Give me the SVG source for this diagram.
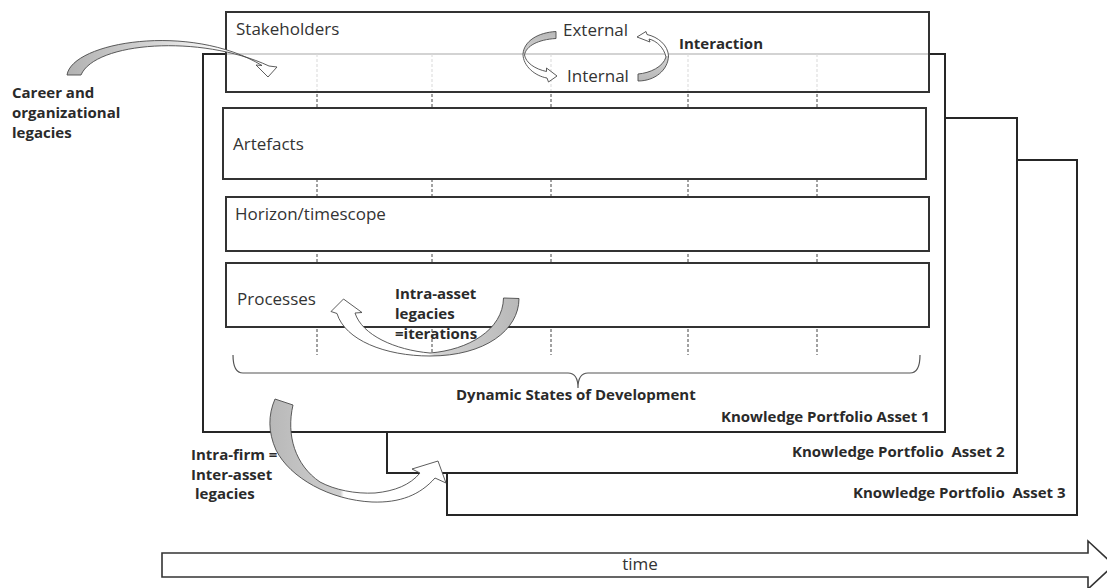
<svg xmlns="http://www.w3.org/2000/svg" width="1107" height="588" viewBox="0 0 1107 588">
  <style>
    .frame { fill: #ffffff; stroke: #262626; stroke-width: 2; }
    .box { fill: #ffffff; stroke: #333333; stroke-width: 2; }
    .grid { stroke: #444444; stroke-width: 1; stroke-dasharray: 3 2; fill: none; }
    .lbl { font-family: "Open Sans", "Liberation Sans", sans-serif; font-size: 17px; fill: #333333; }
    .bold { font-family: "Open Sans", "Liberation Sans", sans-serif; font-size: 15px; font-weight: bold; fill: #2a2a2a; white-space: pre; }
    .band { stroke: #4a4a4a; stroke-width: 0.9; stroke-linejoin: round; }
    .brace { fill: none; stroke: #555555; stroke-width: 1.2; }
  </style>
  <defs>
    <linearGradient id="fadeRight" x1="0" y1="0" x2="1" y2="0">
      <stop offset="0" stop-color="#b2b2b2"/>
      <stop offset="0.45" stop-color="#d8d8d8"/>
      <stop offset="0.75" stop-color="#ffffff"/>
      <stop offset="1" stop-color="#ffffff"/>
    </linearGradient>
    <linearGradient id="twistTop" x1="0" y1="0" x2="0" y2="1">
      <stop offset="0" stop-color="#b8b8b8"/>
      <stop offset="0.44" stop-color="#d2d2d2"/>
      <stop offset="0.45" stop-color="#ffffff"/>
      <stop offset="1" stop-color="#ffffff"/>
    </linearGradient>
    <linearGradient id="twistBottom" x1="0" y1="0" x2="0" y2="1">
      <stop offset="0" stop-color="#ffffff"/>
      <stop offset="0.49" stop-color="#ffffff"/>
      <stop offset="0.5" stop-color="#d2d2d2"/>
      <stop offset="1" stop-color="#b8b8b8"/>
    </linearGradient>
    <linearGradient id="twistRight" x1="0" y1="0" x2="1" y2="0">
      <stop offset="0" stop-color="#ffffff"/>
      <stop offset="0.52" stop-color="#ffffff"/>
      <stop offset="0.55" stop-color="#d4d4d4"/>
      <stop offset="1" stop-color="#b8b8b8"/>
    </linearGradient>
    <linearGradient id="twistLeft" x1="0" y1="0" x2="1" y2="0">
      <stop offset="0" stop-color="#b8b8b8"/>
      <stop offset="0.4" stop-color="#cfcfcf"/>
      <stop offset="0.42" stop-color="#ffffff"/>
      <stop offset="1" stop-color="#ffffff"/>
    </linearGradient>
  </defs>

  <!-- stacked portfolio assets, back to front -->
  <g id="asset3">
    <rect class="frame" x="447" y="160" width="630" height="355"/>
    <text class="bold" x="853" y="498">Knowledge Portfolio  Asset 3</text>
  </g>
  <g id="asset2">
    <rect class="frame" x="387" y="118" width="630" height="355"/>
    <text class="bold" x="792" y="457">Knowledge Portfolio  Asset 2</text>
  </g>
  <g id="asset1">
    <rect class="frame" x="203" y="54" width="742" height="378"/>
    <text class="bold" x="721" y="422">Knowledge Portfolio Asset 1</text>
  </g>

  <!-- dashed state dividers running behind the dimension boxes -->
  <g id="state-dividers">
    <line class="grid" x1="317" y1="54" x2="317" y2="355"/>
    <line class="grid" x1="432" y1="54" x2="432" y2="355"/>
    <line class="grid" x1="551" y1="54" x2="551" y2="355"/>
    <line class="grid" x1="688" y1="54" x2="688" y2="355"/>
    <line class="grid" x1="817" y1="54" x2="817" y2="355"/>
  </g>

  <!-- dimension boxes -->
  <g id="stakeholders">
    <rect class="box" x="226" y="12" width="703" height="80" fill-opacity="0.8"/>
    <text class="lbl" x="236" y="35">Stakeholders</text>
    <text class="lbl" x="563" y="36">External</text>
    <text class="lbl" x="567" y="82">Internal</text>
  </g>
  <g id="artefacts">
    <rect class="box" x="223" y="108" width="703" height="71"/>
    <text class="lbl" x="233" y="150">Artefacts</text>
  </g>
  <g id="horizon">
    <rect class="box" x="226" y="197" width="703" height="54"/>
    <text class="lbl" x="235" y="220">Horizon/timescope</text>
  </g>
  <g id="processes">
    <rect class="box" x="226" y="263" width="703" height="64"/>
    <text class="lbl" x="237" y="305">Processes</text>
  </g>

  <!-- brace spanning the states of development -->
  <g id="states-brace">
    <path class="brace" d="M233,355 Q233,373 243,373 L568,373 Q578,373 578,388 Q578,373 588,373 L910,373 Q920,373 920,355"/>
    <text class="bold" x="456" y="400">Dynamic States of Development</text>
  </g>

  <!-- curved block arrows -->
  <g id="connectors">
    <!-- career and organizational legacies into stakeholders -->
    <path class="band" fill="url(#fadeRight)" d="M67,75 C72,42 190,22 262,65.5 L256,65 L268,77 L277,67 L269,66 C200,34 95,42 81,75 Z"/>
    <!-- external to internal -->
    <path class="band" fill="url(#twistTop)" d="M556,31.5 C538,32.5 524,41 523,54 C523,66 535,76 547,78 L548.5,82 L557,76 L546.5,68 L546.5,71.5 C535,69 526,63 524.5,55 C526,46 538,39.5 556,38.5 Z"/>
    <!-- internal back to external -->
    <path class="band" fill="url(#twistBottom)" d="M638,74 L638,81 C655,81 668,70 668.5,56 C668,45 658,37 647,34.5 L646,31.5 L637,37 L650,42 L649,39 C657,41 664,48 666,57 C663,67 650,73 638,74 Z"/>
    <!-- intra-asset iterations -->
    <path class="band" fill="url(#twistRight)" d="M331,311.5 L343.5,299 L362,312.5 L355,313 C362,335 395,350 430,353 C468,350 503,330 503.5,298 L519,298.5 C519,330 485,356 430,356 C385,356 345,340 337,313.5 Z"/>
    <!-- intra-firm / inter-asset legacies -->
    <path class="band" fill="url(#twistLeft)" d="M275,399 L293,405 C286,435 295,465 320,482 C335,490 355,494 375,493 C395,491 410,485 420,473 L412,469 L438,461 L446,483 L435,478 C420,495 400,503 372,502 C330,500 290,478 276,450 C268,432 268,415 275,399 Z"/>
  </g>

  <g id="career-label">
    <text class="bold" x="12" y="98">Career and</text>
    <text class="bold" x="12" y="118">organizational</text>
    <text class="bold" x="12" y="138">legacies</text>
  </g>
  <g id="interaction-label">
    <text class="bold" x="679" y="49">Interaction</text>
  </g>
  <g id="intra-asset-label">
    <text class="bold" x="395" y="299">Intra-asset</text>
    <text class="bold" x="395" y="319">legacies</text>
    <text class="bold" x="395" y="339">=iterations</text>
  </g>
  <g id="intra-firm-label">
    <text class="bold" x="191" y="460">Intra-firm =</text>
    <text class="bold" x="191" y="480">Inter-asset</text>
    <text class="bold" x="195" y="499">legacies</text>
  </g>

  <!-- time axis -->
  <g id="time">
    <path d="M162,553 L1088,553 L1088,541 L1114,565 L1088,589 L1088,577 L162,577 Z" fill="#ffffff" stroke="#333333" stroke-width="1.6" stroke-linejoin="miter"/>
    <text class="lbl" x="640" y="570" text-anchor="middle">time</text>
  </g>
</svg>
